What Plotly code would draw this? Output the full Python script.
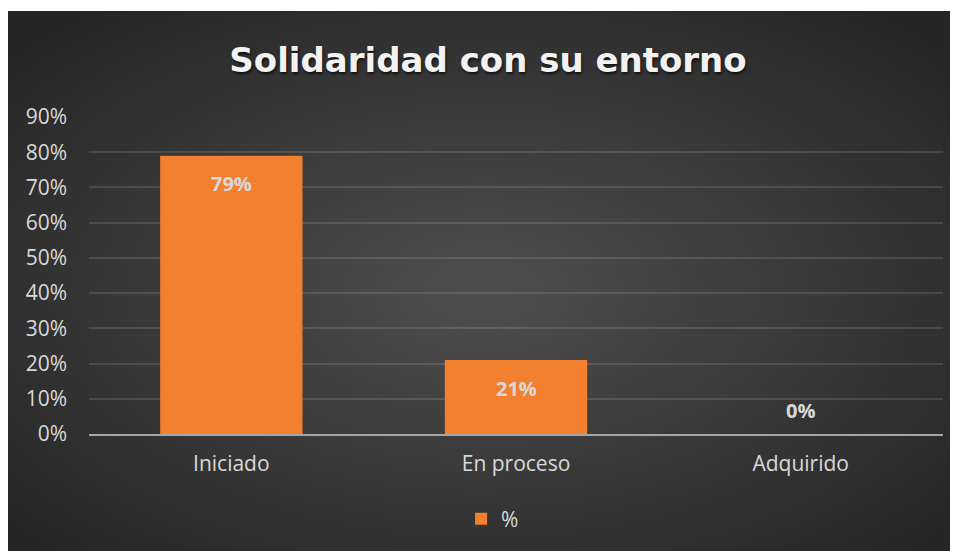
import plotly.graph_objects as go

categories = ["Iniciado", "En proceso", "Adquirido"]
values = [0.79, 0.21, 0.0]
series_name = "%"
title_text = "Solidaridad con su entorno"
y_tick_values = [0, 0.1, 0.2, 0.3, 0.4, 0.5, 0.6, 0.7, 0.8, 0.9]

# figure is placed by the page at screen offset (8, 8)
OX, OY = 8, 8
W, H = 950, 543
L, R, T, B = 80.5, 14.5, 109, 117
PW, PH = W - L - R, H - T - B


def px_x(p):
    # screen px -> paper
    return (p - OX - L) / PW


def px_y(p):
    return (H - B - (p - OY)) / PH


fig = go.Figure()
fig.add_trace(go.Bar(
    x=categories, y=values, name=series_name,
    marker=dict(color="#f2802f", line=dict(width=0)),
    width=0.5, hoverinfo="skip",
))

annotations = []
for c, v in zip(categories, values):
    annotations.append(dict(
        x=c, y=v, xref="x", yref="y", text=f"{round(v*100)}%", showarrow=False,
        yshift=-28 if v > 0.05 else 24,
        font=dict(family="Open Sans", size=20, color="#d9d9d9", weight="bold"),
    ))

shapes = []
# radial gradient
N = 40
cx, cy = 483, 290
for k in range(N, 0, -1):
    f = k / N
    rx = f * 0.5 * 950 * 1.3
    ry = f * 0.5 * 541 * 1.3
    shapes.append(dict(type="circle", xref="paper", yref="paper", layer="below",
                       x0=px_x(cx - rx), x1=px_x(cx + rx), y0=px_y(cy + ry), y1=px_y(cy - ry),
                       fillcolor="rgba(255,255,255,0.0072)", line=dict(width=0)))
# thin white strip at top
shapes.append(dict(type="rect", xref="paper", yref="paper", layer="below",
                   x0=px_x(0), x1=px_x(970), y0=px_y(0), y1=px_y(11),
                   fillcolor="white", line=dict(width=0)))

fig.update_layout(
    width=W, height=H,
    margin=dict(l=L, r=R, t=T, b=B, pad=0),
    paper_bgcolor="#262626", plot_bgcolor="rgba(0,0,0,0)",
    title=dict(text=title_text, x=(488 - OX) / W, xanchor="center", y=1 - (60 - OY) / H,
               yanchor="middle", xref="container", yref="container",
               font=dict(family="DejaVu Sans", size=34, color="#f2f2f2", weight="bold",
                         shadow="1px 2px 3px rgba(0,0,0,0.7)")),
    xaxis=dict(showline=True, linecolor="#a6a6a6", linewidth=2, showgrid=False,
               tickfont=dict(family="Open Sans", size=21, color="#d9d9d9"),
               ticks="", ticklabelstandoff=10),
    yaxis=dict(range=[0, 0.9], tickvals=y_tick_values, tickformat=".0%",
               showgrid=True, gridcolor="rgba(255,255,255,0.12)", gridwidth=1.5,
               zeroline=False, showline=False, ticks="",
               tickfont=dict(family="Open Sans", size=21, color="#d9d9d9"),
               ticklabelstandoff=21),
    showlegend=True,
    legend=dict(orientation="h", x=px_x(461), xanchor="left", y=px_y(519), yanchor="middle",
                font=dict(family="Open Sans", size=21, color="#d9d9d9"),
                bgcolor="rgba(0,0,0,0)"),
    shapes=shapes,
    annotations=annotations,
    bargap=0.5,
)

fig.write_html("out.html")
